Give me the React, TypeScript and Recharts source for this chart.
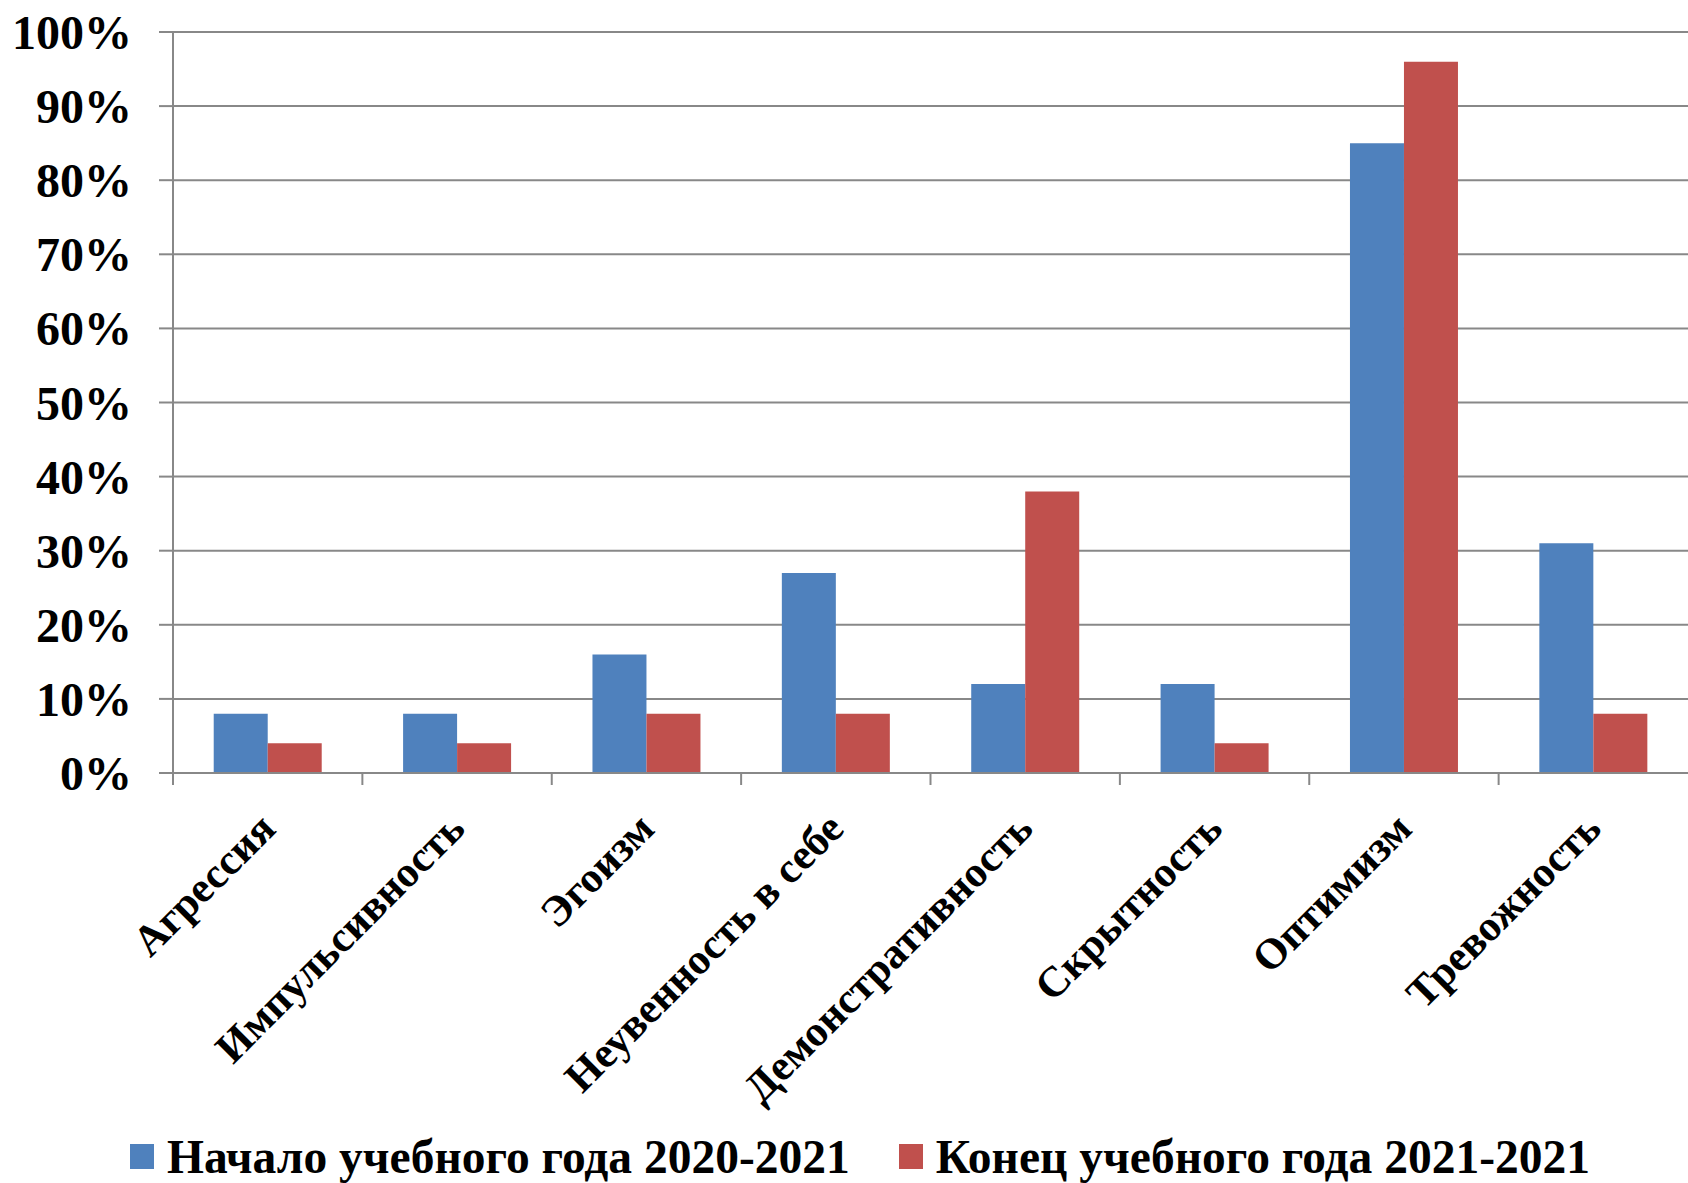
import React from 'react';
import { BarChart, Bar, XAxis, YAxis, CartesianGrid, Legend } from 'recharts';

const categories = [
  'Агрессия',
  'Импульсивность',
  'Эгоизм',
  'Неувенность в себе',
  'Демонстративность',
  'Скрытность',
  'Оптимизм',
  'Тревожность',
];
const startValues = [8, 8, 16, 27, 12, 12, 85, 31];
const endValues = [4, 4, 8, 8, 38, 4, 96, 8];
const yTicks = [0, 10, 20, 30, 40, 50, 60, 70, 80, 90, 100];

const seriesStart = 'Начало учебного года 2020-2021';
const seriesEnd = 'Конец учебного года 2021-2021';

const data = categories.map((name, i) => ({
  name,
  start: startValues[i],
  end: endValues[i],
}));

const W = 1688;
const H = 1183;
const AXIS_W = 173;
const FONT = '"Liberation Serif", "Times New Roman", serif';
const GRID = '#888888';
const BLUE = '#4F81BD';
const RED = '#C0504D';

const halfBand = (W - AXIS_W) / categories.length / 2;

const CategoryTick = (props: any) => {
  const { x, y, payload } = props;
  return (
    <g>
      <line x1={x - halfBand} y1={y} x2={x - halfBand} y2={y + 12} stroke={GRID} strokeWidth={2} />
      <g transform={`translate(${x + 10},${y + 58})`}>
        <text
          x={0}
          y={0}
          textAnchor="end"
          transform="rotate(-45)"
          fill="#000"
          fontFamily={FONT}
          fontWeight="bold"
          fontSize={43}
        >
          {payload.value}
        </text>
      </g>
    </g>
  );
};

const LegendContent = () => (
  <div
    style={{
      height: 53,
      display: 'flex',
      alignItems: 'center',
      paddingLeft: 130,
      fontFamily: FONT,
      fontWeight: 'bold',
      fontSize: 47.5,
      color: '#000',
      whiteSpace: 'nowrap',
    }}
  >
    <span style={{ width: 24, height: 25, background: BLUE, display: 'inline-block' }} />
    <span style={{ marginLeft: 13 }}>{seriesStart}</span>
    <span style={{ width: 24, height: 25, background: RED, display: 'inline-block', marginLeft: 49 }} />
    <span style={{ marginLeft: 13 }}>{seriesEnd}</span>
  </div>
);

export default function App() {
  return (
    <div style={{ position: 'absolute', left: 0, top: 0, width: W, height: H, background: '#fff' }}>
      <BarChart
        width={W}
        height={H}
        data={data}
        margin={{ top: 32, right: 0, left: 0, bottom: 0 }}
        barCategoryGap="21.5%"
        barGap={0}
      >
        <CartesianGrid vertical={false} stroke={GRID} strokeWidth={2} />
        <XAxis
          dataKey="name"
          height={357}
          interval={0}
          axisLine={{ stroke: GRID, strokeWidth: 2 }}
          tickLine={false}
          tickSize={0}
          tickMargin={0}
          tick={<CategoryTick />}
        />
        <YAxis
          width={AXIS_W}
          domain={[0, 100]}
          ticks={yTicks}
          interval={0}
          tickFormatter={(v: number) => `${v}%`}
          axisLine={{ stroke: GRID, strokeWidth: 2 }}
          tickLine={{ stroke: GRID, strokeWidth: 2 }}
          tickSize={14}
          tickMargin={27}
          tick={{ fill: '#000', fontFamily: FONT, fontWeight: 'bold', fontSize: 48 }}
        />
        <Legend
          verticalAlign="bottom"
          wrapperStyle={{ left: 0, width: W, bottom: 0 }}
          content={<LegendContent />}
        />
        <Bar dataKey="start" name={seriesStart} fill={BLUE} isAnimationActive={false} />
        <Bar dataKey="end" name={seriesEnd} fill={RED} isAnimationActive={false} />
      </BarChart>
    </div>
  );
}
